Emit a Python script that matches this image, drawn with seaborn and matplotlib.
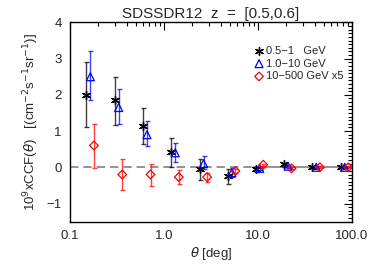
import numpy as np
import pandas as pd
import seaborn as sns
import matplotlib.pyplot as plt
from matplotlib.ticker import FixedLocator, LogLocator, MultipleLocator, NullFormatter

# angular bins (deg) for each energy band
theta_low = [0.15, 0.30, 0.60, 1.2, 2.4, 4.8, 9.5, 19.0, 38.0, 76.0]
theta_mid = [0.165, 0.33, 0.66, 1.32, 2.64, 5.28, 10.45, 20.9, 41.8, 83.6]
theta_high = [0.18, 0.36, 0.72, 1.44, 2.88, 5.76, 11.4, 22.8, 45.6, 91.2]

# CCF values and error bar bounds
ccf_low = [2.0, 1.85, 1.13, 0.42, -0.05, -0.25, -0.05, 0.08, 0.0, 0.0]
lo_low = [1.1, 1.18, 0.65, 0.0, -0.35, -0.45, -0.12, 0.02, -0.03, -0.03]
hi_low = [2.92, 2.5, 1.65, 0.8, 0.22, -0.05, 0.02, 0.13, 0.03, 0.03]

ccf_mid = [2.5, 1.65, 0.9, 0.4, 0.1, -0.15, -0.03, 0.03, 0.0, 0.0]
lo_mid = [1.87, 1.2, 0.58, 0.15, -0.05, -0.28, -0.08, -0.01, -0.03, -0.02]
hi_mid = [3.2, 2.15, 1.27, 0.68, 0.3, -0.02, 0.02, 0.07, 0.03, 0.02]

ccf_high = [0.6, -0.2, -0.2, -0.27, -0.27, -0.1, 0.07, -0.03, 0.0, 0.0]
lo_high = [-0.02, -0.63, -0.52, -0.45, -0.4, -0.15, 0.03, -0.06, -0.03, -0.03]
hi_high = [1.2, 0.22, 0.08, -0.07, -0.15, -0.05, 0.1, 0.0, 0.03, 0.03]

labels = ['0.5\u22121   GeV', '1.0\u221210 GeV', '10\u2212500 GeV x5']

sns.set_style("white")
plt.rcParams['font.family'] = ['Liberation Sans', 'DejaVu Sans']
plt.rcParams['mathtext.fontset'] = 'dejavusans'

fig = plt.figure(figsize=(3.74, 2.67), dpi=100)
ax = fig.add_axes([0.187, 0.170, 0.754, 0.746])

# zero line: dashed, then solid at large angles
ax.plot([0.1, 9.0], [0, 0], color='gray', ls=(0, (5, 3)), lw=1.2, zorder=1)
ax.plot([9.0, 100], [0, 0], color='gray', ls='-', lw=1.2, zorder=1)

bands = [
    (theta_low, ccf_low, lo_low, hi_low, 'black', (6, 2, 0), 'black', 4.5),
    (theta_mid, ccf_mid, lo_mid, hi_mid, 'blue', '^', 'none', 4.5),
    (theta_high, ccf_high, lo_high, hi_high, 'red', 'D', 'none', 3.5),
]

for (x, y, lo, hi, col, mk, fc, ms), lab in zip(bands, labels):
    y = np.array(y)
    yerr = [y - np.array(lo), np.array(hi) - y]
    ax.errorbar(x, y, yerr=yerr, fmt='none', ecolor=col, alpha=0.75,
                elinewidth=1.0, capsize=1.8, capthick=1.0, zorder=2)
    df = pd.DataFrame({'theta': x, 'ccf': y})
    if fc == 'none':
        sns.scatterplot(data=df, x='theta', y='ccf', ax=ax, marker=mk, s=ms**2 * 1.6,
                        facecolors='none', edgecolor=col, linewidth=0.9, label=lab, zorder=3)
    else:
        sns.scatterplot(data=df, x='theta', y='ccf', ax=ax, marker=mk, s=ms**2 * 1.6,
                        color=col, edgecolor=col, linewidth=1.0, label=lab, zorder=3)

ax.set_xscale('log')
ax.set_xlim(0.1, 100)
ax.set_ylim(-1.5, 4)

ax.xaxis.set_major_locator(FixedLocator([0.1, 1, 10, 100]))
ax.set_xticklabels(['0.1', '1.0', '10.0', '100.0'])
ax.xaxis.set_minor_locator(LogLocator(base=10, subs=np.arange(2, 10)))
ax.xaxis.set_minor_formatter(NullFormatter())
ax.yaxis.set_minor_locator(MultipleLocator(0.1))
ax.set_yticks([-1, 0, 1, 2, 3, 4])
ax.set_yticklabels(['\u22121', '0', '1', '2', '3', '4'])

ax.tick_params(which='both', direction='in', top=True, right=True, labelsize=9.5,
               color='black', width=0.8)
ax.tick_params(which='major', length=6, pad=6)
ax.tick_params(which='minor', length=3)
for sp in ax.spines.values():
    sp.set_linewidth(1.0)
    sp.set_color('black')

ax.set_title('SDSSDR12  z  =  [0.5,0.6]', fontsize=11, pad=3)
ax.set_xlabel(r'$\theta$ [deg]', fontsize=9.5, labelpad=2)
ax.set_ylabel(r'10$^9$xCCF($\theta$)   [(cm$^{-2}$s$^{-1}$sr$^{-1}$)]', fontsize=9.5, labelpad=4)

leg = ax.legend(loc='upper left', bbox_to_anchor=(0.645, 0.905), frameon=False, fontsize=8,
                handlelength=0.5, handletextpad=0.4, labelspacing=0.25, borderaxespad=0.0)

fig.savefig('out.png', dpi=100)
